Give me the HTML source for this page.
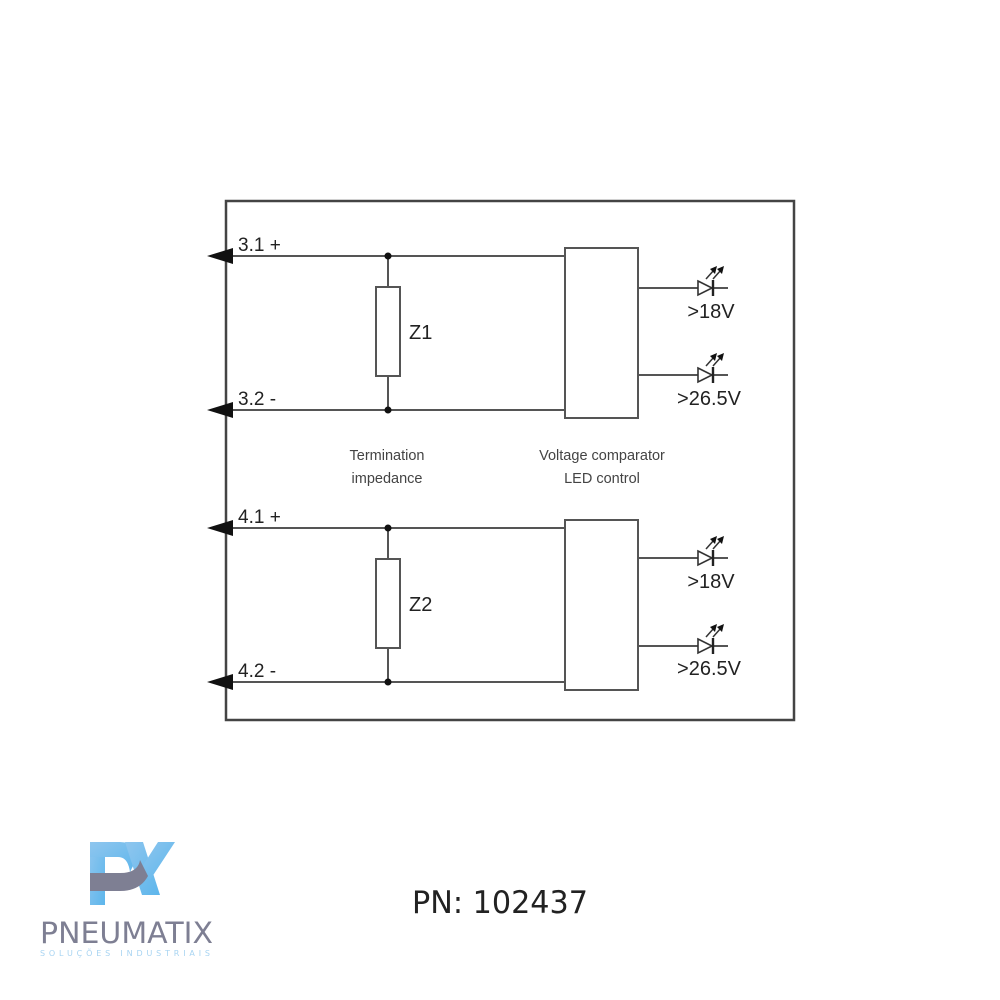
<!DOCTYPE html>
<html><head><meta charset="utf-8"><style>
html,body{margin:0;padding:0;background:#fff;}
svg{display:block;}
</style></head><body>
<svg width="1000" height="1000" viewBox="0 0 1000 1000" xmlns="http://www.w3.org/2000/svg">
<defs>
<linearGradient id="bl" x1="0" y1="0" x2="1" y2="1">
<stop offset="0" stop-color="#8fc6ee"/><stop offset="1" stop-color="#5db6ec"/>
</linearGradient>
<g id="led">
<line x1="0" y1="0" x2="90" y2="0" stroke="#555" stroke-width="2"/>
<polygon points="60,-7 74,0 60,7" fill="#fff" stroke="#333" stroke-width="1.6"/>
<line x1="75" y1="-8" x2="75" y2="8" stroke="#222" stroke-width="2.4"/>
<line x1="68" y1="-9" x2="76" y2="-18" stroke="#333" stroke-width="1.5"/>
<polygon points="79,-22 72,-19 77,-14" fill="#111"/>
<line x1="75" y1="-9" x2="83" y2="-18" stroke="#333" stroke-width="1.5"/>
<polygon points="86,-22 79,-19 84,-14" fill="#111"/>
</g>
<g id="arr"><polygon points="207,0 233,-8 233,8" fill="#111"/></g>
</defs>
<rect x="226" y="201" width="568" height="519" fill="none" stroke="#444" stroke-width="2.5"/>
<g stroke="#555" stroke-width="2" fill="none">
<line x1="226" y1="256" x2="565" y2="256"/>
<line x1="226" y1="410" x2="565" y2="410"/>
<line x1="226" y1="528" x2="565" y2="528"/>
<line x1="226" y1="682" x2="565" y2="682"/>
<line x1="388" y1="256" x2="388" y2="287"/>
<line x1="388" y1="376" x2="388" y2="410"/>
<line x1="388" y1="528" x2="388" y2="559"/>
<line x1="388" y1="648" x2="388" y2="682"/>
<rect x="376" y="287" width="24" height="89"/>
<rect x="376" y="559" width="24" height="89"/>
<rect x="565" y="248" width="73" height="170"/>
<rect x="565" y="520" width="73" height="170"/>
</g>
<g fill="#111">
<circle cx="388" cy="256" r="3.5"/><circle cx="388" cy="410" r="3.5"/>
<circle cx="388" cy="528" r="3.5"/><circle cx="388" cy="682" r="3.5"/>
</g>
<use href="#arr" y="256"/><use href="#arr" y="410"/><use href="#arr" y="528"/><use href="#arr" y="682"/>
<use href="#led" x="638" y="288"/><use href="#led" x="638" y="375"/>
<use href="#led" x="638" y="558"/><use href="#led" x="638" y="646"/>
<g font-family="Liberation Sans, sans-serif" fill="#222" font-size="19">
<text x="238" y="251">3.1 +</text>
<text x="238" y="405">3.2 -</text>
<text x="238" y="523">4.1 +</text>
<text x="238" y="677">4.2 -</text>
<text x="409" y="339" font-size="20">Z1</text>
<text x="409" y="611" font-size="20">Z2</text>
<text x="711" y="318" text-anchor="middle" font-size="20">&gt;18V</text>
<text x="709" y="405" text-anchor="middle" font-size="20">&gt;26.5V</text>
<text x="711" y="588" text-anchor="middle" font-size="20">&gt;18V</text>
<text x="709" y="675" text-anchor="middle" font-size="20">&gt;26.5V</text>
<text x="387" y="460" text-anchor="middle" font-size="14.5" fill="#444">Termination</text>
<text x="387" y="483" text-anchor="middle" font-size="14.5" fill="#444">impedance</text>
<text x="602" y="460" text-anchor="middle" font-size="14.5" fill="#444">Voltage comparator</text>
<text x="602" y="483" text-anchor="middle" font-size="14.5" fill="#444">LED control</text>
</g>
<text x="412" y="913" font-family="DejaVu Sans, sans-serif" font-size="31" fill="#222" textLength="176" lengthAdjust="spacingAndGlyphs">PN: 102437</text>
<!-- logo -->
<rect x="90" y="842" width="15" height="63" fill="url(#bl)"/>
<path d="M90 842 H120 Q135 842 138 856 L130 872 Q128 857 118 857 H90 Z" fill="url(#bl)"/>
<polygon points="125,842 143,842 160,895 142,895" fill="url(#bl)"/>
<polygon points="140,870 158,842 175,842 150,880" fill="url(#bl)"/>
<path d="M90 873 H120 Q138 873 140 860 L148 876 Q140 891 120 891 H90 Z" fill="#7e7f93"/>
<text x="40" y="943" font-family="DejaVu Sans, sans-serif" font-size="29" fill="#7e7f93" textLength="173" lengthAdjust="spacingAndGlyphs">PNEUMATIX</text>
<text x="40" y="956" font-family="DejaVu Sans, sans-serif" font-size="8" fill="#a8d4f2" textLength="170" lengthAdjust="spacing">SOLUÇÕES INDUSTRIAIS</text>
</svg>
</body></html>
